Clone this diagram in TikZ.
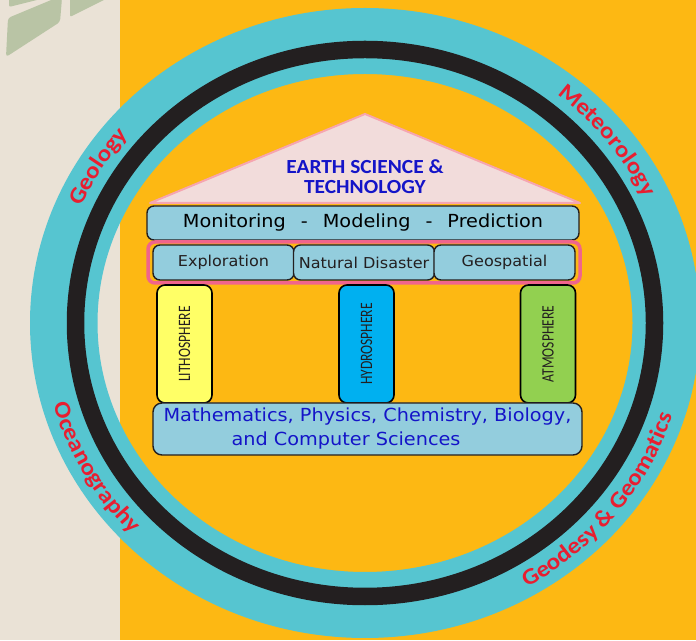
\documentclass[tikz,border=0pt]{standalone}
\usepackage{fontspec}
\usetikzlibrary{decorations.text}
\newfontfamily\calf[FakeStretch=1.07]{Carlito}
\newfontfamily\dvf[FakeStretch=1.07]{DejaVu Sans}
\newfontfamily\narrowf[FakeStretch=0.78]{Carlito}
\newfontfamily\ringf[FakeStretch=1.1]{Carlito}
\definecolor{beige}{RGB}{234,226,214}
\definecolor{sage}{RGB}{185,196,165}
\definecolor{orng}{RGB}{253,184,19}
\definecolor{ringcyan}{RGB}{86,197,208}
\definecolor{ringblack}{RGB}{35,31,32}
\definecolor{roofpink}{RGB}{242,220,219}
\definecolor{roofline}{RGB}{246,165,176}
\definecolor{boxblue}{RGB}{147,205,221}
\definecolor{framepink}{RGB}{240,100,140}
\definecolor{pyellow}{RGB}{255,255,102}
\definecolor{pblue}{RGB}{0,176,240}
\definecolor{pgreen}{RGB}{146,208,80}
\definecolor{txtblue}{RGB}{20,20,200}
\definecolor{ringred}{RGB}{232,30,48}
\begin{document}
\begin{tikzpicture}[x=1pt,y=1pt,
 boxstyle/.style={draw=ringblack, line width=1.4pt, fill=boxblue, rounded corners=7pt, inner sep=0pt},
 subbox/.style={boxstyle, minimum width=141pt, minimum height=35pt, font=\dvf\fontsize{15}{15}\selectfont, text=ringblack},
 pillar/.style={draw=black, line width=1.6pt, rounded corners=8pt, inner sep=0pt, rotate=90, minimum width=118pt, minimum height=55pt, font=\narrowf\fontsize{17.4}{17.4}\selectfont, text=ringblack},
 ringtext/.style={decorate, decoration={text along path, text align=center, text color=ringred, text={|\ringf\bfseries\fontsize{23}{23}\selectfont|#1}}}
]
\useasboundingbox (0,0) rectangle (696,640);
\clip (0,0) rectangle (696,640);
% background
\fill[beige] (0,0) rectangle (120,640);
\fill[orng] (120,0) rectangle (696,640);
\fill[sage, rounded corners=3pt] (8,622) -- (56,642) -- (62,642) -- (60,618) -- (6,583) -- cycle;
\fill[sage, rounded corners=2pt] (9,642) -- (45,642) -- (9,633) -- cycle;
\fill[sage, rounded corners=2pt] (70,642) -- (108,642) -- (70,623) -- cycle;
% rings
\coordinate (C) at (365,317);
\fill[ringcyan, even odd rule] (C) ellipse[x radius=335, y radius=315] (C) ellipse[x radius=267.5, y radius=249];
\draw[ringblack, line width=17.5pt] (C) ellipse[x radius=289.5, y radius=273.5];
% ring labels
\path[ringtext={Geology}] (C) ++(183.7:309 and 292) arc[start angle=183.7, end angle=113.7, x radius=309, y radius=292];
\path[ringtext={Meteorology}] (C) ++(82.8:309 and 292) arc[start angle=82.8, end angle=-7.2, x radius=309, y radius=292];
\path[ringtext={Oceanography}] (C) ++(164:323 and 306) arc[start angle=164, end angle=254, x radius=323, y radius=306];
\path[ringtext={Geodesy {\&} Geomatics}] (C) ++(272:323 and 306) arc[start angle=272, end angle=372, x radius=323, y radius=306];
% roof
\coordinate (apex) at (365,526);
\coordinate (rl) at (150,437);
\coordinate (rr) at (580,437);
\draw[fill=roofpink, draw=roofline, line width=2pt, line join=round] (rl) -- (apex) -- (rr) -- cycle;
\node[font=\calf\bfseries\fontsize{20}{20}\selectfont, text=txtblue, align=center] (title) at (365,463) {EARTH SCIENCE \&\\TECHNOLOGY};
% beams
\node[boxstyle, minimum width=432pt, minimum height=34pt, font=\dvf\fontsize{18}{18}\selectfont, text=black] (mmp) at (363,417) {Monitoring\hspace{15pt}-\hspace{15pt}Modeling\hspace{15pt}-\hspace{15pt}Prediction};
\node[draw=framepink, line width=3.5pt, rounded corners=7pt, minimum width=432pt, minimum height=41pt, inner sep=0pt] (frame) at (364,377.5) {};
\node[subbox] (expl) at (223.5,377.5) {Exploration};
\node[subbox] (nat) at (364,377.5) {Natural Disaster};
\node[subbox] (geo) at (504.5,377.5) {Geospatial};
% pillars
\node[pillar, fill=pyellow] (litho) at (184.5,296) {LITHOSPHERE};
\node[pillar, fill=pblue] (hydro) at (366.5,296) {HYDROSPHERE};
\node[pillar, fill=pgreen] (atmo) at (548,296) {ATMOSPHERE};
% base
\node[boxstyle, minimum width=429pt, minimum height=52pt, rounded corners=9pt, font=\dvf\fontsize{18}{24}\selectfont, text=txtblue, align=left] (base) at (367.5,211) {Mathematics, Physics, Chemistry, Biology,\\\hspace*{68pt}and Computer Sciences};
\end{tikzpicture}
\end{document}
